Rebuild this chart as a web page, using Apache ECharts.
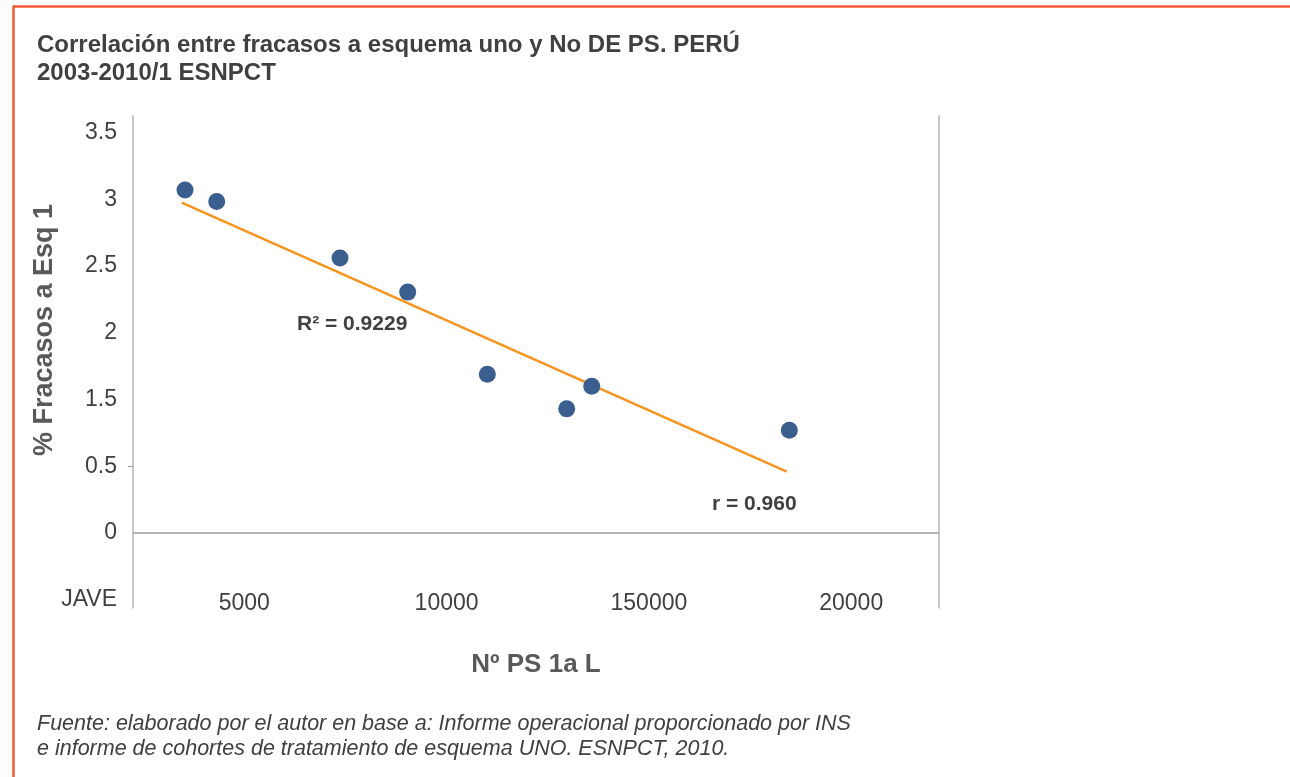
<!DOCTYPE html>
<html>
<head>
<meta charset="utf-8">
<title>Correlación fracasos a esquema uno y Nº PS</title>
<script src="https://cdn.jsdelivr.net/npm/echarts@6/dist/echarts.min.js"></script>
<style>
  html, body { margin: 0; padding: 0; background: #ffffff; }
  #chart { width: 1290px; height: 777px; }
</style>
</head>
<body>
<div id="chart"></div>
<script>
// Nº de PS 1a línea (x) vs % de fracasos a esquema 1 (y)
const psCount = [3535, 4319, 7366, 9039, 11007, 12969, 13587, 18471];
const failPct = [3.07, 2.985, 2.56, 2.305, 1.69, 1.43, 1.60, 1.27];

// Recta de tendencia (extremos)
const trendX = [3454, 18407];
const trendY = [2.975, 0.96];

// Etiquetas de los ejes
const yTickValues = [0, 0.5, 1, 1.5, 2, 2.5, 3, 3.5];
const yTickLabels = ['JAVE', '0', '0.5', '1.5', '2', '2.5', '3', '3.5'];
const xTickValues = [5000, 10000, 15000, 20000];
const xTickLabels = ['5000', '10000', '150000', '20000'];

const FONT = "'Liberation Sans', Arial, Helvetica, sans-serif";
const TEXT = '#404040';
const AXIS = '#b3b3b3';
const FRAME = '#f15a36';

const chart = echarts.init(document.getElementById('chart'), null, { renderer: 'canvas' });

chart.setOption({
  animation: false,
  backgroundColor: '#ffffff',
  textStyle: { fontFamily: FONT },
  title: {
    text: 'Correlación entre fracasos a esquema uno y No DE PS. PERÚ\n2003-2010/1 ESNPCT',
    left: 32,
    top: 26,
    textStyle: { fontFamily: FONT, fontSize: 24, fontWeight: 'bold', color: TEXT, lineHeight: 28 }
  },
  grid: { left: 133, right: 351, top: 116, bottom: 169, containLabel: false },
  xAxis: {
    type: 'value',
    min: 2250,
    max: 22170,
    axisLine: { show: true, onZero: true, onZeroAxisIndex: 0, lineStyle: { opacity: 0 } },
    axisTick: { show: false },
    splitLine: { show: false },
    axisLabel: {
      customValues: xTickValues,
      formatter: v => xTickLabels[xTickValues.indexOf(v)],
      margin: -4,
      verticalAlign: 'middle',
      fontFamily: FONT,
      fontSize: 23,
      color: TEXT
    },
    name: 'Nº PS 1a L',
    nameLocation: 'middle',
    nameGap: 57,
    nameMoveOverlap: false,
    nameTextStyle: { fontFamily: FONT, fontSize: 26, fontWeight: 'bold', color: '#595959', verticalAlign: 'middle' }
  },
  yAxis: [
    {
      type: 'value',
      min: -0.0625,
      max: 3.625,
      axisLine: { show: true, lineStyle: { color: AXIS, width: 1.5 } },
      axisTick: { show: true, customValues: [1], length: 5, lineStyle: { color: '#999999' } },
      splitLine: { show: false },
      axisLabel: {
        customValues: yTickValues,
        formatter: v => yTickLabels[yTickValues.indexOf(v)],
        margin: 16,
        padding: [5, 0, 0, 0],
        fontFamily: FONT,
        fontSize: 23,
        color: TEXT
      },
      name: '% Fracasos a Esq 1',
      nameLocation: 'middle',
      nameRotate: 90,
      nameGap: 88,
      nameMoveOverlap: false,
      nameTextStyle: {
        fontFamily: FONT, fontSize: 27, fontWeight: 'bold', color: '#595959',
        verticalAlign: 'middle', padding: [0, 0, 0, 64]
      }
    },
    {
      type: 'value',
      position: 'right',
      min: -0.0625,
      max: 3.625,
      axisLine: { show: true, lineStyle: { color: AXIS, width: 1.5 } },
      axisTick: { show: false },
      axisLabel: { show: false },
      splitLine: { show: false }
    }
  ],
  series: [
    {
      type: 'line',
      data: trendX.map((x, i) => [x, trendY[i]]),
      showSymbol: false,
      silent: true,
      z: 2,
      lineStyle: { color: '#f7941d', width: 2.5 }
    },
    {
      type: 'scatter',
      data: psCount.map((x, i) => [x, failPct[i]]),
      symbol: 'circle',
      symbolSize: 17,
      z: 3,
      itemStyle: { color: '#3a5f8f', opacity: 1 },
      markLine: {
        silent: true,
        symbol: 'none',
        label: { show: false },
        lineStyle: { color: AXIS, width: 2, type: 'solid' },
        data: [{ yAxis: 0.5 }]
      }
    }
  ],
  graphic: [
    { type: 'line', shape: { x1: 13, y1: 6.5, x2: 1290, y2: 6.5 }, style: { stroke: FRAME, lineWidth: 2.5 }, silent: true },
    { type: 'line', shape: { x1: 13.5, y1: 5.5, x2: 13.5, y2: 777 }, style: { stroke: FRAME, lineWidth: 2.5 }, silent: true },
    {
      type: 'text', left: 297, top: 314,
      style: { text: 'R² = 0.9229', font: 'bold 21px ' + FONT, fill: TEXT }
    },
    {
      type: 'text', left: 712, top: 494,
      style: { text: 'r = 0.960', font: 'bold 21px ' + FONT, fill: TEXT }
    },
    {
      type: 'text', left: 37, top: 712,
      style: {
        text: 'Fuente: elaborado por el autor en base a: Informe operacional proporcionado por INS\ne informe de cohortes de tratamiento de esquema UNO. ESNPCT, 2010.',
        font: 'italic 21.5px ' + FONT, fill: TEXT, lineHeight: 25
      }
    }
  ]
});
</script>
</body>
</html>
